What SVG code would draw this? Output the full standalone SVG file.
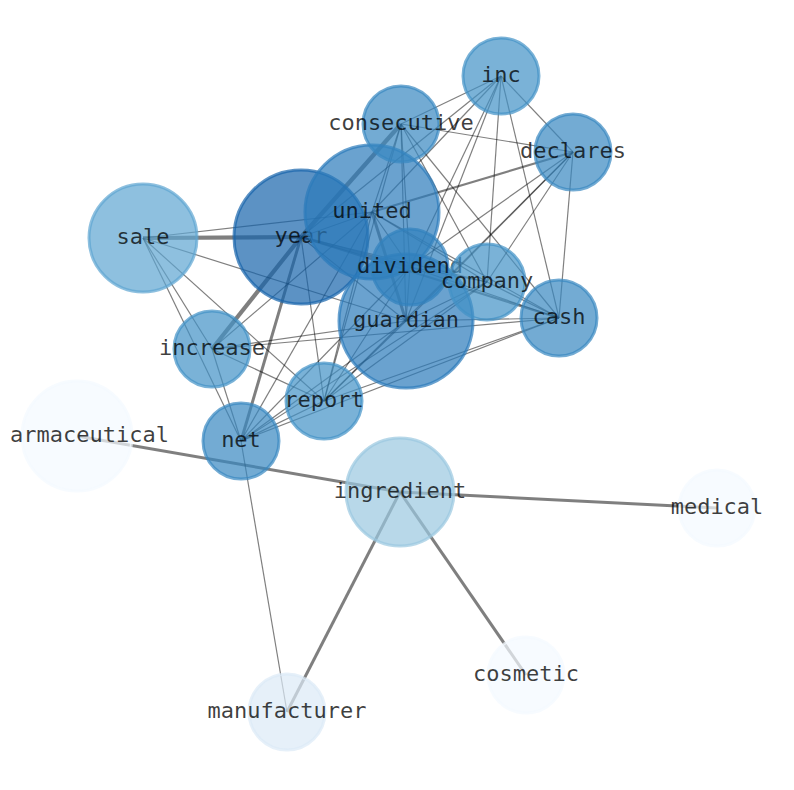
<svg xmlns="http://www.w3.org/2000/svg" width="794" height="790" viewBox="0 0 794 790">
<style>
.e{stroke:#000;stroke-opacity:0.5;fill:none;stroke-linecap:butt}
.w1{stroke-width:1.2}
.w2{stroke-width:2.2}
.w3{stroke-width:3}
.w4{stroke-width:4.2}
circle{fill-opacity:0.7;stroke-opacity:0.7;stroke-width:3}
text{font-family:"DejaVu Sans Mono","Liberation Mono",monospace;font-size:22px;fill:#000;fill-opacity:0.76;text-anchor:middle}
.c1{fill:#1764ab;stroke:#1764ab}
.c2{fill:#2b7bba;stroke:#2b7bba}
.c3{fill:#3282bd;stroke:#3282bd}
.c4{fill:#3787c0;stroke:#3787c0}
.c5{fill:#4292c6;stroke:#4292c6}
.c6{fill:#5ea5d1;stroke:#5ea5d1}
.c7{fill:#9ac8e0;stroke:#9ac8e0}
.c8{fill:#dce9f6;stroke:#dce9f6}
.c9{fill:#f4f9ff;stroke:#f4f9ff}
</style>
<rect width="794" height="790" fill="#fff"/>
<g id="edges">
<line class="e w1" x1="143" y1="238" x2="372" y2="212"/>
<line class="e w1" x1="143" y1="238" x2="406" y2="321"/>
<line class="e w1" x1="143" y1="238" x2="324" y2="401"/>
<line class="e w1" x1="143" y1="238" x2="241" y2="441"/>
<line class="e w1" x1="143" y1="238" x2="212" y2="349"/>
<line class="e w1" x1="301" y1="237" x2="501" y2="76"/>
<line class="e w1" x1="301" y1="237" x2="372" y2="212"/>
<line class="e w1" x1="301" y1="237" x2="406" y2="321"/>
<line class="e w1" x1="301" y1="237" x2="324" y2="401"/>
<line class="e w1" x1="301" y1="237" x2="487" y2="282"/>
<line class="e w1" x1="501" y1="76" x2="401" y2="124"/>
<line class="e w1" x1="501" y1="76" x2="372" y2="212"/>
<line class="e w1" x1="501" y1="76" x2="573" y2="152"/>
<line class="e w1" x1="501" y1="76" x2="410" y2="267"/>
<line class="e w1" x1="501" y1="76" x2="406" y2="321"/>
<line class="e w1" x1="501" y1="76" x2="487" y2="282"/>
<line class="e w1" x1="501" y1="76" x2="559" y2="318"/>
<line class="e w1" x1="401" y1="124" x2="573" y2="152"/>
<line class="e w1" x1="401" y1="124" x2="372" y2="212"/>
<line class="e w1" x1="401" y1="124" x2="410" y2="267"/>
<line class="e w1" x1="401" y1="124" x2="406" y2="321"/>
<line class="e w1" x1="401" y1="124" x2="487" y2="282"/>
<line class="e w1" x1="401" y1="124" x2="559" y2="318"/>
<line class="e w1" x1="401" y1="124" x2="324" y2="401"/>
<line class="e w1" x1="573" y1="152" x2="410" y2="267"/>
<line class="e w1" x1="573" y1="152" x2="406" y2="321"/>
<line class="e w1" x1="573" y1="152" x2="487" y2="282"/>
<line class="e w1" x1="573" y1="152" x2="559" y2="318"/>
<line class="e w1" x1="573" y1="152" x2="324" y2="401"/>
<line class="e w1" x1="372" y1="212" x2="410" y2="267"/>
<line class="e w1" x1="372" y1="212" x2="487" y2="282"/>
<line class="e w1" x1="372" y1="212" x2="559" y2="318"/>
<line class="e w1" x1="372" y1="212" x2="212" y2="349"/>
<line class="e w1" x1="372" y1="212" x2="324" y2="401"/>
<line class="e w1" x1="372" y1="212" x2="241" y2="441"/>
<line class="e w1" x1="410" y1="267" x2="406" y2="321"/>
<line class="e w1" x1="410" y1="267" x2="487" y2="282"/>
<line class="e w1" x1="410" y1="267" x2="559" y2="318"/>
<line class="e w1" x1="410" y1="267" x2="324" y2="401"/>
<line class="e w1" x1="410" y1="267" x2="241" y2="441"/>
<line class="e w1" x1="406" y1="321" x2="487" y2="282"/>
<line class="e w1" x1="406" y1="321" x2="559" y2="318"/>
<line class="e w1" x1="406" y1="321" x2="212" y2="349"/>
<line class="e w1" x1="406" y1="321" x2="324" y2="401"/>
<line class="e w1" x1="406" y1="321" x2="241" y2="441"/>
<line class="e w1" x1="487" y1="282" x2="559" y2="318"/>
<line class="e w1" x1="487" y1="282" x2="324" y2="401"/>
<line class="e w1" x1="487" y1="282" x2="241" y2="441"/>
<line class="e w1" x1="559" y1="318" x2="324" y2="401"/>
<line class="e w1" x1="559" y1="318" x2="241" y2="441"/>
<line class="e w1" x1="559" y1="318" x2="212" y2="349"/>
<line class="e w1" x1="212" y1="349" x2="324" y2="401"/>
<line class="e w1" x1="212" y1="349" x2="241" y2="441"/>
<line class="e w1" x1="324" y1="401" x2="241" y2="441"/>
<line class="e w1" x1="241" y1="441" x2="287" y2="712"/>
<line class="e w2" x1="372" y1="212" x2="573" y2="152"/>
<line class="e w2" x1="301" y1="237" x2="559" y2="318"/>
<line class="e w3" x1="301" y1="237" x2="241" y2="441"/>
<line class="e w3" x1="372" y1="212" x2="406" y2="321"/>
<line class="e w3" x1="301" y1="237" x2="410" y2="267"/>
<line class="e w3" x1="400" y1="492" x2="77" y2="436"/>
<line class="e w3" x1="400" y1="492" x2="717" y2="508"/>
<line class="e w3" x1="400" y1="492" x2="526" y2="675"/>
<line class="e w3" x1="400" y1="492" x2="287" y2="712"/>
<line class="e w4" x1="143" y1="238" x2="301" y2="237"/>
<line class="e w4" x1="401" y1="124" x2="301" y2="237"/>
<line class="e w4" x1="301" y1="237" x2="212" y2="349"/>
</g>
<g id="node-sale"><circle class="c6" cx="143" cy="238" r="54"/><text x="143" y="244">sale</text></g>
<g id="node-year"><circle class="c1" cx="301" cy="237" r="67"/><text x="301" y="243">year</text></g>
<g id="node-united"><circle class="c2" cx="372" cy="212" r="67"/><text x="372" y="218">united</text></g>
<g id="node-inc"><circle class="c5" cx="501" cy="76" r="38"/><text x="501" y="82">inc</text></g>
<g id="node-consecutive"><circle class="c4" cx="401" cy="124" r="38"/><text x="401" y="130">consecutive</text></g>
<g id="node-declares"><circle class="c4" cx="573" cy="152" r="38"/><text x="573" y="158">declares</text></g>
<g id="node-guardian"><circle class="c2" cx="406" cy="321" r="67"/><text x="406" y="327">guardian</text></g>
<g id="node-dividend"><circle class="c3" cx="410" cy="267" r="38"/><text x="410" y="273">dividend</text></g>
<g id="node-company"><circle class="c5" cx="487" cy="282" r="38"/><text x="487" y="288">company</text></g>
<g id="node-cash"><circle class="c4" cx="559" cy="318" r="38"/><text x="559" y="324">cash</text></g>
<g id="node-increase"><circle class="c5" cx="212" cy="349" r="38"/><text x="212" y="355">increase</text></g>
<g id="node-report"><circle class="c5" cx="324" cy="401" r="38"/><text x="324" y="407">report</text></g>
<g id="node-net"><circle class="c4" cx="241" cy="441" r="38"/><text x="241" y="447">net</text></g>
<g id="node-pharmaceutical"><circle class="c9" cx="77" cy="436" r="55"/><text x="10" y="442" style="text-anchor:start">armaceutical</text></g>
<g id="node-ingredient"><circle class="c7" cx="400" cy="492" r="54"/><text x="400" y="498">ingredient</text></g>
<g id="node-medical"><circle class="c9" cx="717" cy="508" r="38"/><text x="717" y="514">medical</text></g>
<g id="node-cosmetic"><circle class="c9" cx="526" cy="675" r="38"/><text x="526" y="681">cosmetic</text></g>
<g id="node-manufacturer"><circle class="c8" cx="287" cy="712" r="38"/><text x="287" y="718">manufacturer</text></g>
</svg>
